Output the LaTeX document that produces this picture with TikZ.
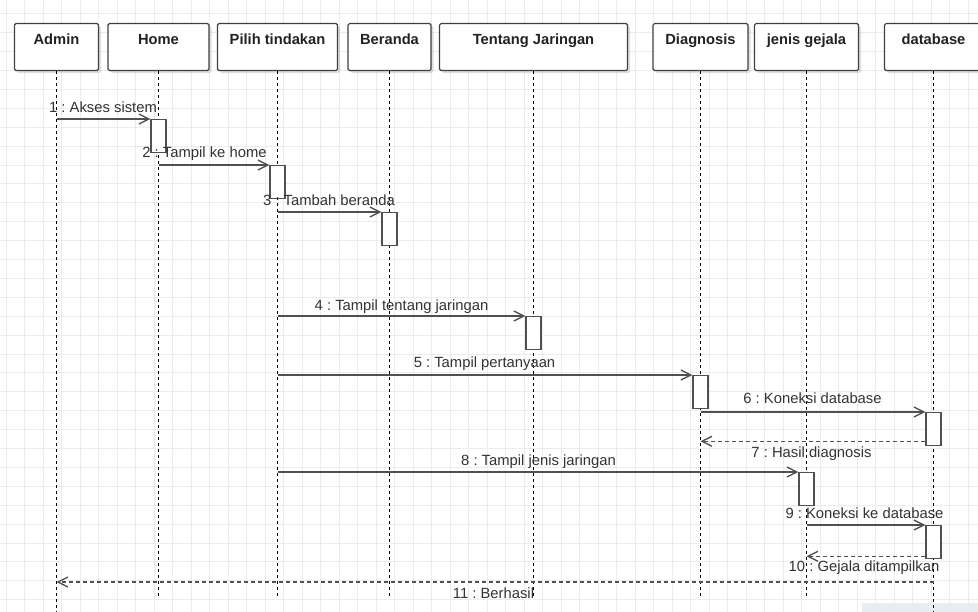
\documentclass[tikz,border=0pt]{standalone}
\usepackage{fontspec}
\setmainfont{Liberation Sans}
\usetikzlibrary{arrows.meta,shadows,calc}
\frenchspacing

\definecolor{gridc}{HTML}{ECECEC}
\definecolor{linec}{HTML}{505050}
\definecolor{boxc}{HTML}{404040}
\definecolor{textc}{HTML}{333333}
\definecolor{headc}{HTML}{222222}
\definecolor{barc}{HTML}{E8EDF3}

\begin{document}
\begin{tikzpicture}[x=1pt,y=-1pt,
  gridline/.style={draw=gridc, line width=0.9pt},
  objbox/.style={draw=boxc, line width=1.2pt, fill=white, rounded corners=1.5pt,
    anchor=north, inner xsep=0pt, inner ysep=10pt,
    text height=10.5pt, text depth=16.5pt, minimum height=47pt,
    font=\bfseries\fontsize{14.7}{17}\selectfont, text=headc,
    drop shadow={shadow xshift=2.5pt, shadow yshift=-2.5pt, opacity=0.12, fill=black}},
  lifeline/.style={draw=black, line width=1.2pt, dash pattern=on 3pt off 3pt},
  actbox/.style={draw=linec, line width=1.3pt, fill=white, anchor=north,
    minimum width=15pt, minimum height=33pt, inner sep=0pt},
  msg/.style={draw=linec, line width=1.3pt, -{Straight Barb[length=10pt,width=10pt]}},
  ret/.style={msg, dash pattern=on 4pt off 3pt},
  lbl/.style={anchor=base, inner sep=0pt, text=textc,
    font=\fontsize{14.8}{17}\selectfont}]

\useasboundingbox (0,0) rectangle (978,612);
\clip (0,0) rectangle (978,612);
\fill[white] (0,0) rectangle (978,612);

% background grid
\foreach \i in {0,...,52} \draw[gridline] ({6+18.5*\i},0) -- ({6+18.5*\i},612);
\foreach \j in {0,...,31} \draw[gridline] (0,{13.8+18.9*\j}) -- (978,{13.8+18.9*\j});

% faint panel edge, bottom right
\fill[barc] (862,603) rectangle (978,612);

% object heads
\node[objbox, minimum width=84pt]  (admin)   at (56.5,23)  {Admin};
\node[objbox, minimum width=101pt] (home)    at (158.5,23) {Home};
\node[objbox, minimum width=120pt] (pilih)   at (277.5,23) {Pilih tindakan};
\node[objbox, minimum width=83pt]  (beranda) at (389.5,23) {Beranda};
\node[objbox, minimum width=188pt] (tentang) at (533.5,23) {Tentang Jaringan};
\node[objbox, minimum width=95pt]  (diag)    at (700.5,23) {Diagnosis};
\node[objbox, minimum width=104pt] (jenis)   at (806.5,23) {jenis gejala};
\node[objbox, minimum width=98pt]  (db)      at (933.5,23) {database};

% lifelines
\coordinate (endA) at (0,599);
\coordinate (endB) at (0,612);
\draw[lifeline] (admin.south)   -- (admin.south |- endB);
\draw[lifeline] (home.south)    -- (home.south |- endA);
\draw[lifeline] (pilih.south)   -- (pilih.south |- endA);
\draw[lifeline] (beranda.south) -- (beranda.south |- endA);
\draw[lifeline] (tentang.south) -- (tentang.south |- endA);
\draw[lifeline] (diag.south)    -- (diag.south |- endA);
\draw[lifeline] (jenis.south)   -- (jenis.south |- endA);
\draw[lifeline] (db.south)      -- (db.south |- endB);

% activations
\node[actbox] (a1) at (158.5,119) {};
\node[actbox] (a2) at (277.5,165) {};
\node[actbox] (a3) at (389.5,212) {};
\node[actbox] (a4) at (533.5,316) {};
\node[actbox] (a5) at (700.5,375) {};
\node[actbox] (a6) at (933.5,412) {};
\node[actbox] (a7) at (806.5,472) {};
\node[actbox] (a8) at (933.5,525) {};

% messages
\draw[msg] (admin.south |- a1.north) -- (a1.north west);
\node[lbl] (l1) at (103,113) {1 : Akses sistem};

\draw[msg] (home.south |- a2.north) -- (a2.north west);
\node[lbl] (l2) at (204.5,158) {2 : Tampil ke home};

\draw[msg] (pilih.south |- a3.north) -- (a3.north west);
\node[lbl] (l3) at (329,206) {3 : Tambah beranda};

\draw[msg] (pilih.south |- a4.north) -- (a4.north west);
\node[lbl] (l4) at (401.5,310.5) {4 : Tampil tentang jaringan};

\draw[msg] (pilih.south |- a5.north) -- (a5.north west);
\node[lbl] (l5) at (484.5,368) {5 : Tampil pertanyaan};

\draw[msg] (diag.south |- a6.north) -- (a6.north west);
\node[lbl] (l6) at (812.5,404) {6 : Koneksi database};

\coordinate (r7) at ($(a6.south west)+(0,-5)$);
\draw[ret] (r7) -- (diag.south |- r7);
\node[lbl] (l7) at (811.5,457) {7 : Hasil diagnosis};

\draw[msg] (pilih.south |- a7.north) -- (a7.north west);
\node[lbl] (l8) at (538.5,465) {8 : Tampil jenis jaringan};

\draw[msg] (jenis.south |- a8.north) -- (a8.north west);
\node[lbl] (l9) at (864.5,518) {9 : Koneksi ke database};

\coordinate (r10) at ($(a8.south west)+(0,-3)$);
\draw[ret] (r10) -- (jenis.south |- r10);
\node[lbl] (l10) at (864,571) {10 : Gejala ditampilkan};

\coordinate (r11) at (0,582);
\draw[ret] (db.south |- r11) -- (admin.south |- r11);
\node[lbl] (l11) at (493.5,598) {11 : Berhasil};

\end{tikzpicture}
\end{document}
